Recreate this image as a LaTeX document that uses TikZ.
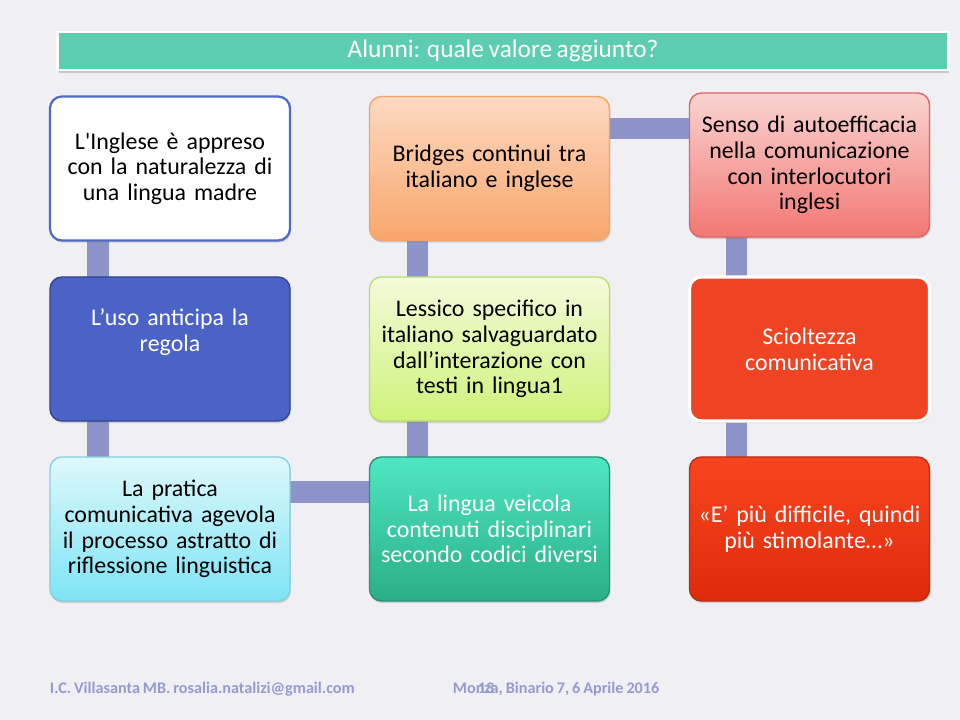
\documentclass[tikz,border=0pt]{standalone}
\usepackage{fontspec}
\setmainfont{Carlito}[WordSpace=0.8]
\usetikzlibrary{shadows,backgrounds}

\definecolor{paper}{HTML}{F0EFF3}
\definecolor{barcol}{HTML}{8D94C9}
\definecolor{titlecol}{HTML}{5DCDB1}
\definecolor{footcol}{HTML}{959BD0}
\definecolor{inglesedraw}{HTML}{4F6BC5}
\definecolor{bridgestop}{HTML}{FDD9C2}
\definecolor{bridgesbot}{HTML}{F8A66B}
\definecolor{bridgesdraw}{HTML}{F0A468}
\definecolor{sensotop}{HTML}{FAD4D1}
\definecolor{sensobot}{HTML}{F27773}
\definecolor{sensodraw}{HTML}{E06464}
\definecolor{usofill}{HTML}{4B63C7}
\definecolor{usodraw}{HTML}{33458F}
\definecolor{lessicotop}{HTML}{F4FBDA}
\definecolor{lessicobot}{HTML}{CEF27A}
\definecolor{lessicodraw}{HTML}{B8DE72}
\definecolor{sciofill}{HTML}{EE4424}
\definecolor{praticatop}{HTML}{DEF8FC}
\definecolor{praticabot}{HTML}{7EE4F5}
\definecolor{praticadraw}{HTML}{86CFE0}
\definecolor{linguatop}{HTML}{4EE7C1}
\definecolor{linguabot}{HTML}{2AAE88}
\definecolor{linguadraw}{HTML}{23937A}
\definecolor{difftop}{HTML}{F8451F}
\definecolor{diffbot}{HTML}{E02B0B}
\definecolor{diffdraw}{HTML}{BF2A10}

\tikzset{
    box/.style={rounded corners=0.3cm, minimum width=6cm, minimum height=3.6cm, outer sep=0pt,
        text width=5.7cm, align=center, font=\fontsize{17}{18.3}\selectfont,
        line width=1pt, drop shadow={opacity=0.3,shadow xshift=0.6pt,shadow yshift=-1.5pt}},
    bar/.style={line width=0.53cm, draw=barcol},
    foot/.style={anchor=base west, text=footcol, font=\fontsize{11.5}{13}\selectfont\bfseries},
}

\begin{document}
\begin{tikzpicture}[x=0.025cm,y=-0.025cm]

    \begin{scope}[on background layer]
        \fill[paper] (0,0) rectangle (960,720);
    \end{scope}

    % title
    \node[fill=titlecol, draw=white, line width=2pt, minimum width=22.25cm, minimum height=0.95cm,
        text=white, font=\fontsize{18}{20}\selectfont,
        drop shadow={opacity=0.35,shadow xshift=0.8pt,shadow yshift=-1.8pt}]
        (title) at (503,51) {Alunni: quale valore aggiunto?};

    % first row
    \node[box, fill=white, draw=inglesedraw, line width=1.6pt] (inglese) at (170,168.5)
        {L\textquotesingle Inglese è appreso\\con la naturalezza di\\una lingua madre};
    \node[box, top color=bridgestop, bottom color=bridgesbot, draw=bridgesdraw] (bridges) at (489.5,168.5)
        {Bridges continui tra\\italiano e inglese};
    \node[box, top color=sensotop, bottom color=sensobot, draw=sensodraw] (senso) at (809.5,165)
        {Senso di autoefficacia\\nella comunicazione\\con interlocutori\\inglesi};

    % second row
    \node[box, fill=usofill, draw=usodraw, text=white, text depth=1.6cm] (uso) at (170,349)
        {L’uso anticipa la\\regola};
    \node[box, top color=lessicotop, bottom color=lessicobot, draw=lessicodraw] (lessico) at (489.5,349)
        {Lessico specifico in\\italiano salvaguardato\\dall’interazione con\\testi in lingua1};
    \node[box, fill=sciofill, draw=white, line width=2.2pt, text=white] (scioltezza) at (809.5,349)
        {Scioltezza\\comunicativa};

    % third row
    \node[box, top color=praticatop, bottom color=praticabot, draw=praticadraw] (pratica) at (170,529)
        {La pratica\\comunicativa agevola\\il processo astratto di\\riflessione linguistica};
    \node[box, top color=linguatop, bottom color=linguabot, draw=linguadraw, text=white] (lingua) at (489.5,529)
        {La lingua veicola\\contenuti disciplinari\\secondo codici diversi};
    \node[box, top color=difftop, bottom color=diffbot, draw=diffdraw, text=white] (difficile) at (809.5,529)
        {«E’ più difficile, quindi\\più stimolante…»};

    % connectors
    \begin{scope}[on background layer]
        \draw[bar] ([xshift=1.2cm]inglese.south west) -- ([xshift=1.2cm]uso.north west);
        \draw[bar] ([xshift=1.2cm]uso.south west) -- ([xshift=1.2cm]pratica.north west);
        \draw[bar] ([xshift=1.2cm]bridges.south west) -- ([xshift=1.2cm]lessico.north west);
        \draw[bar] ([xshift=1.2cm]lessico.south west) -- ([xshift=1.2cm]lingua.north west);
        \draw[bar] ([xshift=1.175cm]senso.south west) -- ([xshift=1.175cm]scioltezza.north west);
        \draw[bar] ([xshift=1.175cm]scioltezza.south west) -- ([xshift=1.175cm]difficile.north west);
        \draw[bar] ([yshift=-0.8cm]bridges.north east) -- ([yshift=-0.8cm]bridges.north east -| senso.west);
        \draw[bar] ([yshift=-0.875cm]pratica.north east) -- ([yshift=-0.875cm]pratica.north east -| lingua.west);
    \end{scope}

    % footer
    \node[foot] (scuola) at (45,693) {I.C. Villasanta MB. rosalia.natalizi@gmail.com};
    \node[foot] (luogo) at (448,693) {Monza, Binario 7, 6 Aprile 2016};
    \node[foot] (pagina) at (473,693) {13};

\end{tikzpicture}
\end{document}
